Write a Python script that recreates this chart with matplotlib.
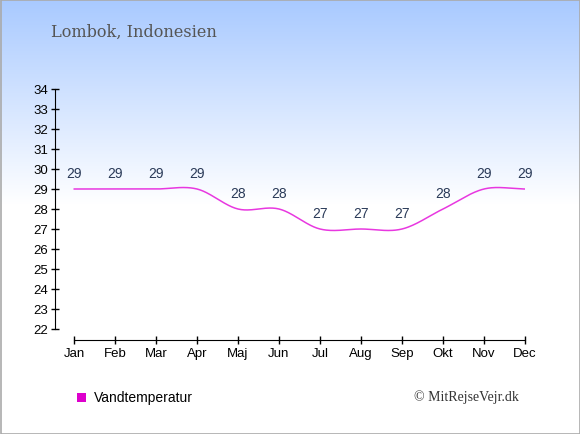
import numpy as np
import matplotlib
matplotlib.use("Agg")
import matplotlib.pyplot as plt
from matplotlib.patches import Rectangle

months = ["Jan", "Feb", "Mar", "Apr", "Maj", "Jun", "Jul", "Aug", "Sep", "Okt", "Nov", "Dec"]
water_temp = [29, 29, 29, 29, 28, 28, 27, 27, 27, 28, 29, 29]
yticks = list(range(22, 35))
title = "Lombok, Indonesien"
legend_label = "Vandtemperatur"
copyright_text = "© MitRejseVejr.dk"

W, H = 580, 435
fig = plt.figure(figsize=(W / 100, H / 100), dpi=100)

# background gradient
bg = fig.add_axes([0, 0, 1, 1], zorder=-10)
rows = np.linspace(0, 1, H)
frac = np.clip(rows / (205 / H), 0, 1)
top = np.array([0.66, 0.79, 1.0])
col = top[None, :] * (1 - frac[:, None]) + np.ones(3)[None, :] * frac[:, None]
img = np.repeat(col[:, None, :], 10, axis=1)
bg.imshow(img, aspect="auto", extent=[0, 1, 0, 1], origin="upper")
bg.set_xlim(0, 1); bg.set_ylim(0, 1)
bg.axis("off")

# catmull-rom spline through data
x = np.arange(len(water_temp), dtype=float)
y = np.array(water_temp, dtype=float)
m = np.zeros_like(y)
m[1:-1] = (y[2:] - y[:-2]) / 2
m[0] = 0.0
m[-1] = 0.0
xs, ys = [], []
for i in range(len(y) - 1):
    t = np.linspace(0, 1, 40)
    h00 = 2 * t**3 - 3 * t**2 + 1
    h10 = t**3 - 2 * t**2 + t
    h01 = -2 * t**3 + 3 * t**2
    h11 = t**3 - t**2
    xs.append(x[i] + t)
    ys.append(h00 * y[i] + h10 * m[i] + h01 * y[i + 1] + h11 * m[i + 1])
xs = np.concatenate(xs); ys = np.concatenate(ys)

ax = fig.add_axes([55 / W, 1 - 341 / H, 470 / W, 251 / H])
ax.patch.set_alpha(0)
ax.plot(xs, ys, color="#e838e0", lw=1.1, solid_capstyle="round")
for xi, yi in zip(x, water_temp):
    ax.annotate(str(yi), (xi, yi), xytext=(0, 6.5), textcoords="offset points",
                ha="center", va="bottom", fontsize=10, color="#2a3a58",
                family="Liberation Sans")

ax.set_xlim(-19 / 41, 11)
ax.set_ylim(22 - 11 / 20, 34)
ax.set_xticks(x)
ax.set_xticklabels(months)
ax.set_yticks(yticks)
ax.set_yticklabels([str(v) for v in yticks])
for s in ["top", "right"]:
    ax.spines[s].set_visible(False)
ax.spines["left"].set_bounds(22, 34)
ax.spines["bottom"].set_bounds(0, 11)
ax.tick_params(direction="inout", length=6, width=1, labelsize=9.5, colors="black", pad=2)
for lab in ax.get_xticklabels() + ax.get_yticklabels():
    lab.set_family("Liberation Sans")

fig.text(51 / W, 1 - 32 / H, title, fontsize=11.6, color="#555555",
         family="DejaVu Serif", va="center", ha="left")

fig.patches.append(Rectangle((77 / W, 1 - 403 / H), 9 / W, 9 / H, transform=fig.transFigure,
                             facecolor="#dd00cc", edgecolor="none"))
fig.text(94 / W, 1 - 398 / H, legend_label, fontsize=10, color="black",
         family="Liberation Sans", va="center", ha="left")
fig.text(519 / W, 1 - 397 / H, copyright_text, fontsize=10, color="#333333",
         family="Liberation Serif", va="center", ha="right")

fig.patches.append(Rectangle((0.5 / W, 0.5 / H), 1 - 1 / W, 1 - 1 / H, transform=fig.transFigure,
                             facecolor="none", edgecolor="#aaaaaa", lw=1.2))

fig.savefig("out.png", dpi=100)
